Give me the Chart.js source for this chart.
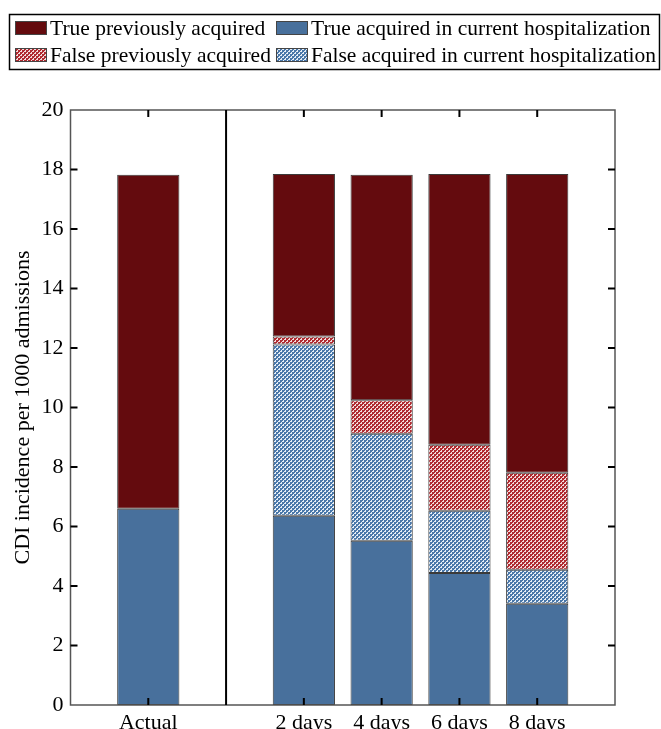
<!DOCTYPE html>
<html>
<head>
<meta charset="utf-8">
<script src="https://cdn.jsdelivr.net/npm/chart.js@4"></script>
<style>
html, body { margin: 0; padding: 0; background: #fff; }
#wrap { width: 661px; height: 729px; }
</style>
</head>
<body>
<div id="wrap"><canvas id="canvas" width="661" height="729"></canvas></div>
<script>
// categories (blank slots keep the gap around the separator)
var labels = ['', 'Actual', '', '2 days', '4 days', '6 days', '8 days', ''];
// CDI incidence per 1000 admissions, stacked from the bottom up
var trueAcquired  = [null, 6.60, null, 6.36, 5.52, 4.44, 3.40, null];
var falseAcquired = [null, 0,    null, 5.76, 3.60, 2.09, 1.15, null];
var falsePrevious = [null, 0,    null, 0.27, 1.12, 2.22, 3.26, null];
var truePrevious  = [null, 11.22, null, 5.46, 7.58, 9.10, 10.04, null];
var yTicks = [0, 2, 4, 6, 8, 10, 12, 14, 16, 18, 20];

var FONT = 'Liberation Serif';
var darkRed = '#640b0e';
var steel = '#48709c';

function checker(c1, c2) {
    var p = document.createElement('canvas');
    p.width = 4; p.height = 4;
    var g = p.getContext('2d');
    g.fillStyle = c2;
    g.fillRect(0, 0, 4, 4);
    g.fillStyle = c1;
    g.fillRect(0, 0, 2, 2);
    g.fillRect(2, 2, 2, 2);
    g.fillRect(0, 2, 1, 1);
    g.fillRect(2, 0, 1, 1);
    return document.getElementById('canvas').getContext('2d').createPattern(p, 'repeat');
}
var redHatch = checker('#b02a30', '#f2dcdc');
var blueHatch = checker('#4a78aa', '#e6eef6');

var legendItems = [
    { text: 'True previously acquired', fill: darkRed, col: 0, row: 0 },
    { text: 'True acquired in current hospitalization', fill: steel, col: 1, row: 0 },
    { text: 'False previously acquired', fill: redHatch, col: 0, row: 1 },
    { text: 'False acquired in current hospitalization', fill: blueHatch, col: 1, row: 1 }
];

var framePlugin = {
    id: 'frame',
    afterDraw: function (chart) {
        var ctx = chart.ctx, a = chart.chartArea;
        var x = chart.scales.x, y = chart.scales.y;
        ctx.save();
        // box round the plot
        ctx.strokeStyle = '#555';
        ctx.lineWidth = 1.5;
        ctx.strokeRect(a.left, a.top, a.right - a.left, a.bottom - a.top);
        // separator between Actual and the simulated bars
        ctx.strokeStyle = '#000';
        ctx.lineWidth = 2;
        var sx = x.getPixelForValue(2);
        ctx.beginPath();
        ctx.moveTo(sx, a.top);
        ctx.lineTo(sx, a.bottom);
        ctx.stroke();
        // inward ticks
        ctx.lineWidth = 2;
        yTicks.forEach(function (v) {
            if (v === 0 || v === 20) return;
            var py = y.getPixelForValue(v);
            ctx.beginPath();
            ctx.moveTo(a.left, py); ctx.lineTo(a.left + 7, py);
            ctx.moveTo(a.right, py); ctx.lineTo(a.right - 7, py);
            ctx.stroke();
        });
        labels.forEach(function (l, i) {
            if (!l) return;
            var px = x.getPixelForValue(i);
            ctx.beginPath();
            ctx.moveTo(px, a.top); ctx.lineTo(px, a.top + 7);
            ctx.moveTo(px, a.bottom); ctx.lineTo(px, a.bottom - 7);
            ctx.stroke();
        });
        // legend
        ctx.strokeStyle = '#000';
        ctx.lineWidth = 1.5;
        ctx.strokeRect(9.5, 14.5, 650, 55);
        ctx.font = '21.5px "' + FONT + '"';
        ctx.fillStyle = '#000';
        ctx.textBaseline = 'alphabetic';
        legendItems.forEach(function (it) {
            var bx = it.col === 0 ? 15 : 276;
            var by = it.row === 0 ? 21 : 48;
            ctx.fillStyle = it.fill;
            ctx.fillRect(bx, by, 31, 13);
            ctx.strokeStyle = '#444';
            ctx.lineWidth = 1;
            ctx.strokeRect(bx + 0.5, by + 0.5, 31, 13);
            ctx.fillStyle = '#000';
            ctx.fillText(it.text, bx + 35, it.row === 0 ? 35 : 62);
        });
        ctx.restore();
    }
};

function ds(label, data, fill) {
    return {
        label: label,
        data: data,
        backgroundColor: fill,
        borderColor: '#3a3a3a',
        borderWidth: 1,
        borderSkipped: false,
        barPercentage: 1,
        categoryPercentage: 0.8,
        stack: 's'
    };
}

var ctx = document.getElementById('canvas').getContext('2d');
window.myBar = new Chart(ctx, {
    type: 'bar',
    data: {
        labels: labels,
        datasets: [
            ds('True acquired in current hospitalization', trueAcquired, steel),
            ds('False acquired in current hospitalization', falseAcquired, blueHatch),
            ds('False previously acquired', falsePrevious, redHatch),
            ds('True previously acquired', truePrevious, darkRed)
        ]
    },
    options: {
        responsive: false,
        animation: false,
        layout: { padding: { top: 110, right: 46, left: 0, bottom: 0 } },
        plugins: {
            legend: { display: false },
            tooltip: { enabled: false }
        },
        scales: {
            x: {
                stacked: true,
                offset: false,
                grid: { display: false, drawTicks: false },
                border: { display: false },
                ticks: {
                    autoSkip: false,
                    maxRotation: 0,
                    padding: 5,
                    color: '#000',
                    font: { family: FONT, size: 22 }
                },
                afterFit: function (s) { s.height = 24; }
            },
            y: {
                stacked: true,
                min: 0,
                max: 20,
                grid: { display: false, drawTicks: false },
                border: { display: false },
                ticks: {
                    stepSize: 2,
                    padding: 7,
                    color: '#000',
                    font: { family: FONT, size: 22 }
                },
                title: {
                    display: true,
                    text: 'CDI incidence per 1000 admissions',
                    color: '#000',
                    font: { family: FONT, size: 22 },
                    padding: { top: 10, bottom: 0 }
                },
                afterFit: function (s) { s.width = 70.5; }
            }
        }
    },
    plugins: [framePlugin]
});
</script>
</body>
</html>
